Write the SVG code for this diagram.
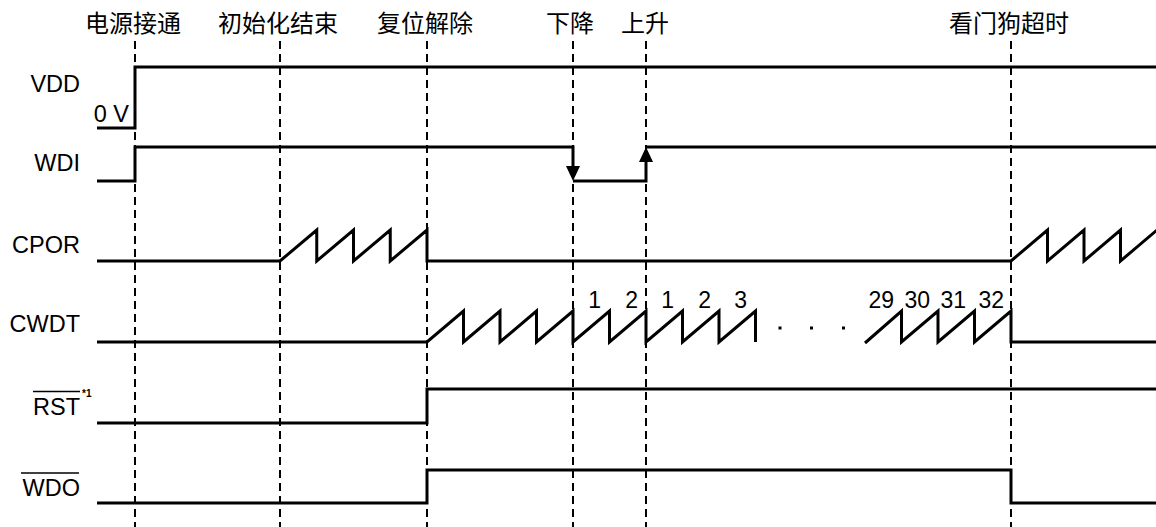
<svg xmlns="http://www.w3.org/2000/svg" width="1156" height="527" viewBox="0 0 1156 527">
<style>
.sig{fill:none;stroke:#000;stroke-width:3;stroke-linejoin:miter;stroke-linecap:butt}
.guide{stroke:#000;stroke-width:2;stroke-dasharray:8 5;fill:none}
.lbl{font-family:"Liberation Sans",Arial,sans-serif;font-size:23.5px;fill:#000;text-anchor:end}
.num{font-family:"Liberation Sans",Arial,sans-serif;font-size:23px;fill:#000;text-anchor:end}
.cjk{font-family:"Noto Sans CJK SC","Noto Sans",sans-serif;font-size:24px;fill:#000;text-anchor:middle}
.ov{stroke:#000;stroke-width:1.5}
</style>
<rect width="1156" height="527" fill="#fff"/>
<g id="events">
<text class="cjk" x="133" y="32">电源接通</text>
<text class="cjk" x="278" y="32">初始化结束</text>
<text class="cjk" x="425" y="32">复位解除</text>
<text class="cjk" x="570" y="32">下降</text>
<text class="cjk" x="645" y="32">上升</text>
<text class="cjk" x="1009" y="32">看门狗超时</text>
</g>
<g id="connectors">
<line class="guide" x1="135" y1="41" x2="135" y2="527"/>
<line class="guide" x1="280" y1="41" x2="280" y2="527"/>
<line class="guide" x1="427" y1="41" x2="427" y2="527"/>
<line class="guide" x1="573" y1="41" x2="573" y2="527"/>
<line class="guide" x1="646" y1="41" x2="646" y2="527"/>
<line class="guide" x1="1011" y1="41" x2="1011" y2="527"/>
</g>
<g id="VDD">
<text class="lbl" x="80" y="92">VDD</text>
<text class="lbl" x="129" y="122">0 V</text>
<path class="sig" d="M97,128 H135 V67 H1156"/>
</g>
<g id="WDI">
<text class="lbl" x="80" y="171">WDI</text>
<path class="sig" d="M97,181 H135 V147 H573 V170 M573,181 H646 V158 M646,147 H1156"/>
<polygon points="566,166 580,166 573,181"/>
<polygon points="639,162 653,162 646,147"/>
</g>
<g id="CPOR">
<text class="lbl" x="80" y="253">CPOR</text>
<path class="sig" d="M97,261 H280 L316.75,230 V261 L353.5,230 V261 L390.25,230 V261 L427,230 V261 H1011 L1047.5,230 V261 L1084,230 V261 L1120.5,230 V261 L1157,230"/>
</g>
<g id="CWDT">
<text class="lbl" x="80" y="332">CWDT</text>
<path class="sig" d="M97,342 H427 L463.5,311 V342 L500,311 V342 L536.5,311 V342 L573,311 V342 L609.5,311 V342 L646,311 V342 L682.5,311 V342 L719,311 V342 L755.5,311 V342"/>
<path class="sig" d="M865,343 L901.5,311 V342 L938,311 V342 L974.5,311 V342 L1011,311 V342 H1156"/>
<rect x="778.5" y="326.5" width="3" height="3"/>
<rect x="810" y="326.5" width="3" height="3"/>
<rect x="842" y="326.5" width="3" height="3"/>
<text class="num" x="601" y="308">1</text>
<text class="num" x="638" y="308">2</text>
<text class="num" x="674" y="308">1</text>
<text class="num" x="711" y="308">2</text>
<text class="num" x="747" y="308">3</text>
<text class="num" x="894" y="308">29</text>
<text class="num" x="930" y="308">30</text>
<text class="num" x="966" y="308">31</text>
<text class="num" x="1004" y="308">32</text>
</g>
<g id="RST">
<text class="lbl" x="80" y="415">RST</text>
<line class="ov" x1="33" y1="391.5" x2="80" y2="391.5"/>
<text x="82" y="397" style="font-family:'Liberation Sans',Arial,sans-serif;font-size:10px;font-weight:bold">*1</text>
<path class="sig" d="M97,423 H427 V389 H1156"/>
</g>
<g id="WDO">
<text class="lbl" x="80" y="496">WDO</text>
<line class="ov" x1="21" y1="473" x2="79" y2="473"/>
<path class="sig" d="M97,503 H427 V470 H1011 V503 H1156"/>
</g>
</svg>
